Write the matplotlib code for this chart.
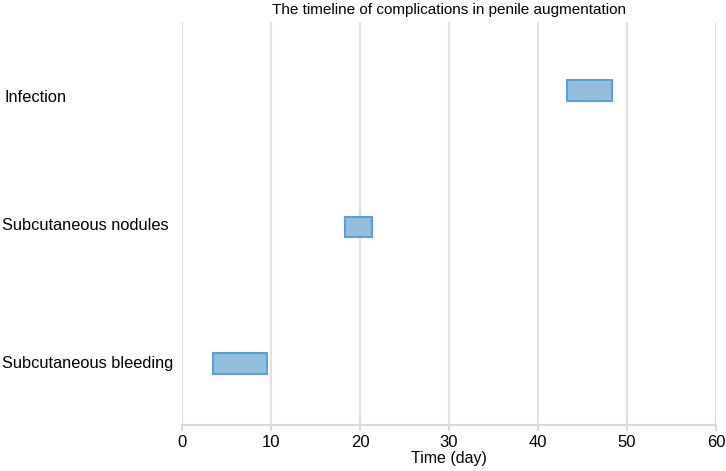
import matplotlib
matplotlib.use("Agg")
import matplotlib.pyplot as plt
import matplotlib.transforms as mtransforms

categories = ["Subcutaneous bleeding", "Subcutaneous nodules", "Infection"]
start_day = [3.5, 18.3, 43.3]
end_day = [9.6, 21.4, 48.3]
x_ticks = [0, 10, 20, 30, 40, 50, 60]

plt.rcParams['font.family'] = ['Liberation Sans', 'DejaVu Sans']

fig = plt.figure(figsize=(7.26, 4.71), dpi=100)
ax = fig.add_axes([182/726, 1-425/471, (716-182)/726, (425-22)/471])

widths = [e - s for s, e in zip(start_day, end_day)]
ypos = list(range(len(categories)))
ax.barh(ypos, widths, left=start_day, height=0.15, color='#92bfe0',
        edgecolor='#5b9fd6', linewidth=1.5, zorder=3)

ax.set_xlim(0, 60)
ax.set_ylim(-0.45, 2.5)
ax.set_xticks(x_ticks)
ax.set_xticklabels([str(t) for t in x_ticks], fontsize=12)
ax.set_yticks(ypos)
ax.set_yticklabels(categories, fontsize=11.8, ha='left')
ax.tick_params(axis='y', length=0, pad=(182-2)*72/100)
ax.tick_params(axis='x', length=4, color='#d9d9d9', width=1.5, pad=3)
ax.grid(axis='x', color='#e0e0e0', linewidth=1.6, zorder=0)
for s in ['top', 'right', 'left']:
    ax.spines[s].set_visible(False)
ax.spines['bottom'].set_color('#d9d9d9')
ax.spines['bottom'].set_linewidth(1.5)
ax.set_xlabel("Time (day)", fontsize=11.5, labelpad=1)
fig.text(449/726, 1-10/471, "The timeline of complications in penile augmentation",
         ha='center', va='center', fontsize=11)

# small label offsets as in reference
offsets_px = [(0, 2), (0, 3), (3, -6)]
for lbl, (dx, dy) in zip(ax.get_yticklabels(), offsets_px):
    lbl.set_transform(lbl.get_transform() +
                      mtransforms.ScaledTranslation(dx/100, dy/100, fig.dpi_scale_trans))

fig.savefig("out.png", dpi=100)
